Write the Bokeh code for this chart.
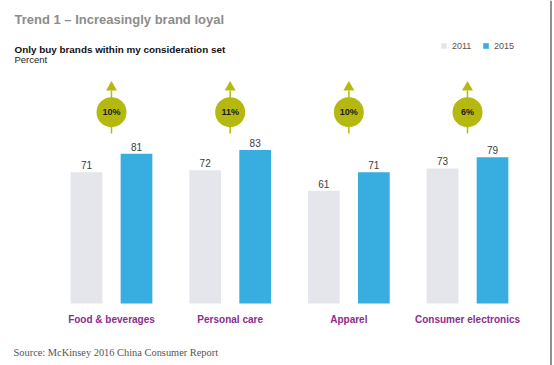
from bokeh.plotting import figure
from bokeh.models import (ColumnDataSource, Range1d, Label, Legend, LegendItem, Span)
from bokeh.transform import dodge
from bokeh.core.properties import value
from bokeh.embed import file_html
from bokeh.resources import INLINE

# ---------------- data ----------------
categories = ["Food & beverages", "Personal care", "Apparel", "Consumer electronics"]
years = ["2011", "2015"]
values_2011 = [71, 72, 61, 73]
values_2015 = [81, 83, 71, 79]
growth = ["10%", "11%", "10%", "6%"]

title_text = "Trend 1 \u2013 Increasingly brand loyal"
subtitle_text = "Only buy brands within my consideration set"
unit_text = "Percent"
source_text = "Source: McKinsey 2016 China Consumer Report"

# ---------------- layout constants ----------------
W, H = 554, 365
U = 118.67           # px per category slot (horizontal)
FIRST_PX = 111       # x of first group centre (px)
K = 1.85             # px per data unit (vertical)
BASE_PX = 62         # baseline distance above frame bottom
x_start = -FIRST_PX / U
x_end = x_start + W / U
y_start = -BASE_PX / K
y_end = y_start + H / K

def py(top_px):
    return y_end - top_px / K

def px(left_px):
    return x_start + left_px / U

FONT = "Liberation Sans"
C2011 = "#e4e6ec"
C2015 = "#38ade0"
OLIVE = "#b5b90f"
PURPLE = "#8e2c8e"

n = len(categories)
src = ColumnDataSource(dict(pos=list(range(n)), cat=categories,
                            v11=values_2011, v15=values_2015,
                            l11=[str(v) for v in values_2011],
                            l15=[str(v) for v in values_2015],
                            growth=growth,
                            base=[0] * n,
                            by=[py(111.7)] * n,
                            hy=[py(86.8)] * n,
                            s0=[py(90)] * n,
                            s1=[py(133)] * n))

p = figure(width=W, height=H, output_backend="svg", toolbar_location=None,
           x_range=Range1d(x_start, x_end), y_range=Range1d(y_start, y_end),
           min_border_left=0, min_border_right=0, min_border_top=0, min_border_bottom=0)
p.axis.visible = False
p.grid.visible = False
p.outline_line_color = None
p.background_fill_color = "white"
p.border_fill_color = "white"

OFF = 25 / U
BW = 31.7 / U
r11 = p.vbar(x=dodge("pos", -OFF), top="v11", bottom="base", width=BW,
             source=src, fill_color=C2011, line_color=None)
r15 = p.vbar(x=dodge("pos", OFF), top="v15", bottom="base", width=BW,
             source=src, fill_color=C2015, line_color=None)

# value labels
for col, labc, off in (("v11", "l11", -OFF), ("v15", "l15", OFF)):
    p.text(x=dodge("pos", off), y=col, text=labc, source=src,
           text_font=value(FONT), text_font_size="10px",
           text_color="#3c3c3c", text_align="center", text_baseline="bottom", y_offset=-3)

# category labels
p.text(x="pos", y="base", text="cat", source=src, text_font=value(FONT),
       text_font_size="10px", text_font_style="bold", text_color=PURPLE,
       text_align="center", text_baseline="middle", y_offset=16)

# growth badges
p.segment(x0="pos", y0="s0", x1="pos", y1="s1", source=src, line_color=OLIVE, line_width=1.5)
p.scatter(x="pos", y="hy", source=src, marker="triangle", size=11,
          fill_color=OLIVE, line_color=None)
p.scatter(x="pos", y="by", source=src, marker="circle", size=30,
          fill_color=OLIVE, line_color=None)
p.text(x="pos", y="by", text="growth", source=src, text_font=value(FONT),
       text_font_size="9px", text_font_style="bold", text_color="#1a1a1a",
       text_align="center", text_baseline="middle")

# right-hand border line
p.add_layout(Span(location=px(550.5), dimension="height", line_color="#222222", line_width=1))

def lab(text, x, ytop, size, style="normal", color="#000000", font=FONT, baseline="alphabetic"):
    p.add_layout(Label(x=x, y=H - ytop, x_units="screen", y_units="screen", text=text,
                       text_font=font, text_font_size=size, text_font_style=style,
                       text_color=color, text_baseline=baseline))

lab(title_text, 14, 18.5, "13px", "bold", "#8c8c8c")
lab(subtitle_text, 14, 48.5, "9.9px", "bold", "#111111")
lab(unit_text, 14, 59.3, "9.5px", "normal", "#222222")
lab(source_text, 13, 352, "10.4px", "normal", "#555555", "Liberation Serif", "middle")

legend = Legend(items=[LegendItem(label=years[0], renderers=[r11]),
                       LegendItem(label=years[1], renderers=[r15])],
                orientation="horizontal", location=(440, H - 46 - 4.5),
                glyph_width=7, glyph_height=7, label_height=9, label_standoff=5,
                spacing=10, padding=0, margin=0, border_line_color=None,
                background_fill_alpha=0, label_text_font=FONT,
                label_text_font_size="9px", label_text_color="#555555")
p.add_layout(legend)

open("out.html", "w").write(file_html(p, INLINE))
